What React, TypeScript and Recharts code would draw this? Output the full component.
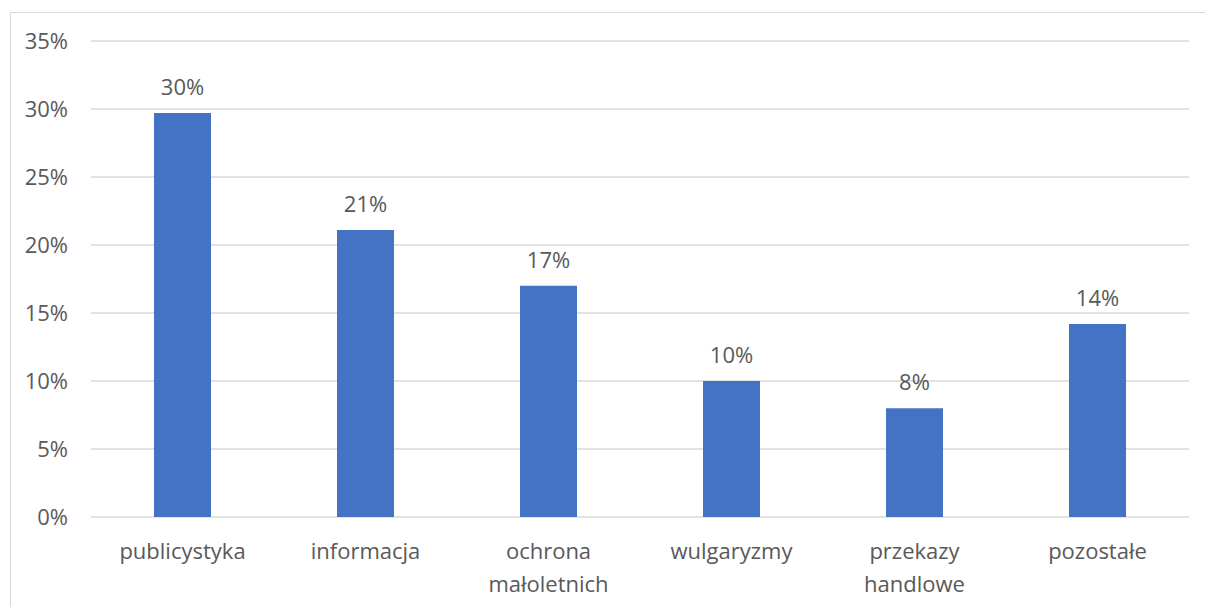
import React from "react";
import { BarChart, Bar, XAxis, YAxis, CartesianGrid, LabelList } from "recharts";

const categories = ["publicystyka", "informacja", "ochrona\nmałoletnich", "wulgaryzmy", "przekazy\nhandlowe", "pozostałe"];
const values = [0.297, 0.211, 0.17, 0.1, 0.08, 0.142];
const valueLabels = ["30%", "21%", "17%", "10%", "8%", "14%"];
const yTicks = [0, 0.05, 0.1, 0.15, 0.2, 0.25, 0.3, 0.35];

const data = categories.map((c, i) => ({ name: c, value: values[i], label: valueLabels[i] }));

const FONT = "'Open Sans', sans-serif";
const TEXT = "#595959";

const CatTick = (props: any) => {
  const { x, y, payload } = props;
  const lines = String(payload.value).split("\n");
  return (
    <text x={x} y={y + 42} textAnchor="middle" fill={TEXT} fontSize={22} fontFamily={FONT}>
      {lines.map((l, i) => (
        <tspan key={i} x={x} dy={i === 0 ? 0 : 33}>
          {l}
        </tspan>
      ))}
    </text>
  );
};

export default function App() {
  return (
    <div style={{ position: "absolute", left: 0, top: 0, width: 1205, height: 607, overflow: "hidden", background: "#fff" }}>
      <div
        style={{
          position: "absolute",
          left: 10,
          top: 12,
          width: 1300,
          height: 700,
          borderLeft: "1px solid #d9d9d9",
          borderTop: "1px solid #d9d9d9",
        }}
      />
      <div style={{ position: "absolute", left: 0, top: 0 }}>
        <BarChart width={1205} height={607} data={data} margin={{ top: 41, right: 16, bottom: 60, left: 0 }}>
          <CartesianGrid vertical={false} stroke="#d9d9d9" strokeWidth={1.5} />
          <XAxis dataKey="name" height={30} axisLine={false} tickLine={false} tickSize={0} tickMargin={0} tick={<CatTick />} interval={0} />
          <YAxis
            width={91}
            domain={[0, 0.35]}
            ticks={yTicks}
            axisLine={false}
            tickLine={false}
            tickSize={0}
            tickMargin={23}
            tickFormatter={(v: number) => `${Math.round(v * 100)}%`}
            tick={{ fill: TEXT, fontSize: 22, fontFamily: FONT }}
          />
          <Bar dataKey="value" fill="#4472c4" barSize={57} isAnimationActive={false}>
            <LabelList dataKey="label" position="top" offset={18} fill={TEXT} fontSize={22} fontFamily={FONT} />
          </Bar>
        </BarChart>
      </div>
    </div>
  );
}
